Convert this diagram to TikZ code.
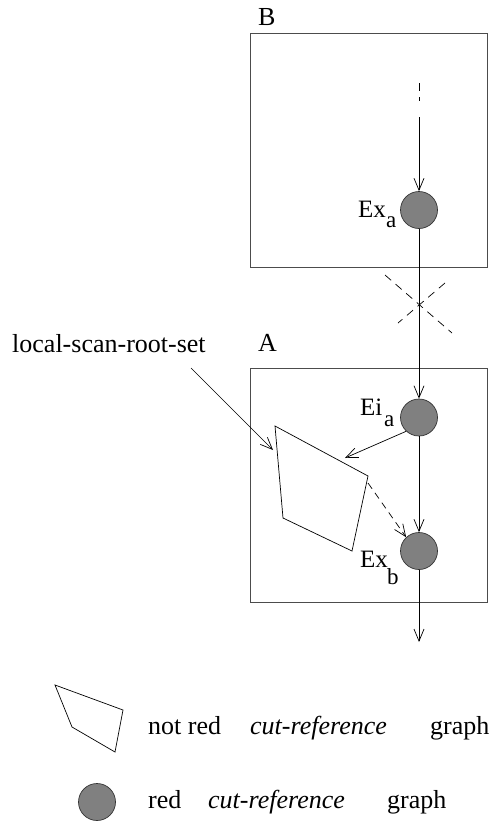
\documentclass[tikz,border=0pt]{standalone}
\usepackage{fontspec}
\setmainfont{Liberation Serif}
\usetikzlibrary{arrows.meta}
\begin{document}
\begin{tikzpicture}[x=1pt,y=-1pt,
  lbl/.style={inner sep=0pt,anchor=base west,font=\fontsize{26}{30}\selectfont},
  elbl/.style={inner sep=0pt,anchor=base west,font=\fontsize{25}{29}\selectfont},
  slbl/.style={inner sep=0pt,anchor=base west,font=\fontsize{23}{27}\selectfont},
  frame/.style={draw=black!70,line width=1pt},
  obj/.style={circle,draw=black!80,line width=0.7pt,fill=black!50,minimum size=37pt,inner sep=0pt},
  conn/.style={line width=0.7pt,-{Straight Barb[length=12pt,width=10pt]}},
  thin/.style={line width=0.7pt},
  xdash/.style={line width=0.7pt,dash pattern=on 8pt off 6pt}]
\useasboundingbox (0,0) rectangle (493,825);
% boxes
\node[frame,minimum width=237pt,minimum height=234pt,inner sep=0pt,anchor=north west] (boxB) at (250,33) {};
\node[frame,minimum width=237pt,minimum height=234pt,inner sep=0pt,anchor=north west] (boxA) at (250,368) {};
\node[lbl] (labB) at (258,25) {B};
\node[lbl] (labA) at (258,351) {A};
% circles
\node[obj] (exa) at (419,210) {};
\node[obj] (eia) at (419,417.5) {};
\node[obj] (exb) at (419,551) {};
\node[elbl] (exalab) at (358,217) {Ex};
\node[slbl] (exasub) at (386,227) {a};
\node[elbl] (eialab) at (360,415) {Ei};
\node[slbl] (eiasub) at (384,426) {a};
\node[elbl] (exblab) at (360,567) {Ex};
\node[slbl] (exbsub) at (387,584) {b};
% top dashed start
\coordinate (d1) at (419,83);
\coordinate (d2) at (419,101);
\coordinate (d3) at (419,117);
\draw[thin,dash pattern=on 8pt off 6pt on 4pt off 20pt] (d1) -- (d2);
\draw[conn] (d3) -- (exa);
\draw[conn] (exa) -- (eia);
\draw[conn] (eia) -- (exb);
\coordinate (out) at (419,642);
\draw[conn] (exb) -- (out);
% dashed cross
\coordinate (x1) at (385,275);
\coordinate (x2) at (452,333);
\coordinate (x3) at (445,283);
\coordinate (x4) at (398,323);
\draw[xdash] (x1) -- (x2);
\draw[xdash] (x3) -- (x4);
% root set polygon
\coordinate (p1) at (275,426);
\coordinate (p2) at (368,476);
\coordinate (p3) at (352,551);
\coordinate (p4) at (283,518);
\draw[thin] (p1) -- (p2) -- (p3) -- (p4) -- cycle;
\coordinate (pin) at (345,458);
\draw[conn] (eia.227) -- (pin);
\coordinate (pd) at (368,483);
\draw[conn,dash pattern=on 7pt off 5pt] (pd) -- (exb.133);
% leader label
\node[lbl] (lsr) at (12,352) {local-scan-root-set};
\coordinate (l1) at (191,368);
\coordinate (l2) at (273,450);
\draw[conn] (l1) -- (l2);
% legend
\coordinate (q1) at (55,685);
\coordinate (q2) at (123,710);
\coordinate (q3) at (115,752);
\coordinate (q4) at (72,727);
\draw[thin] (q1) -- (q2) -- (q3) -- (q4) -- cycle;
\node[lbl] (t1a) at (148,734) {not red};
\node[lbl] (t1b) at (250,734) {\itshape cut-reference};
\node[lbl] (t1c) at (430,734) {graph};
\node[obj] (legc) at (97,802) {};
\node[lbl] (t2a) at (148,808) {red};
\node[lbl] (t2b) at (208,808) {\itshape cut-reference};
\node[lbl] (t2c) at (387,808) {graph};
\end{tikzpicture}
\end{document}
